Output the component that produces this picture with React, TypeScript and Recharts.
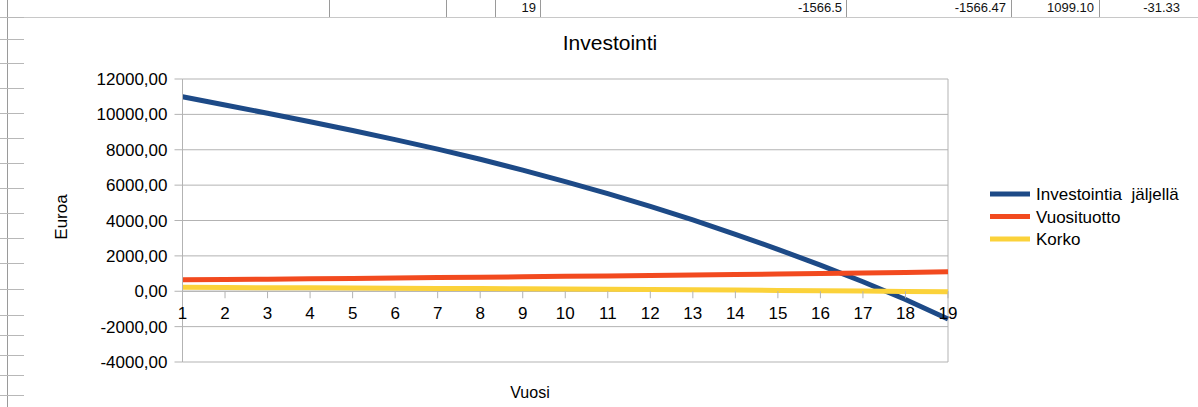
import React from 'react';
import { LineChart, Line, XAxis, YAxis, CartesianGrid, ReferenceLine } from 'recharts';

// ---- data ----
const years = [1, 2, 3, 4, 5, 6, 7, 8, 9, 10, 11, 12, 13, 14, 15, 16, 17, 18, 19];
const investointiaJaljella = [11000, 10530, 10060, 9580, 9085, 8570, 8035, 7465, 6850, 6200, 5515, 4795, 4030, 3220, 2370, 1480, 540, -470, -1566.47];
const vuosituotto = [645.6, 664.97, 684.92, 705.47, 726.63, 748.43, 770.88, 794.01, 817.83, 842.36, 867.64, 893.66, 920.47, 948.09, 976.53, 1005.83, 1036.0, 1067.08, 1099.1];
const korko = [220.0, 210.6, 201.2, 191.6, 181.7, 171.4, 160.7, 149.3, 137.0, 124.0, 110.3, 95.9, 80.6, 64.4, 47.4, 29.6, 10.8, -9.4, -31.33];
const yTicks = [-4000, -2000, 0, 2000, 4000, 6000, 8000, 10000, 12000];
const seriesKeys = ['inv', 'vuo', 'korko'];
const seriesNames = ['Investointia  jäljellä', 'Vuosituotto', 'Korko'];
const seriesColors = ['#1d4a87', '#f24a1f', '#fbd23a'];
const title = 'Investointi';
const yTitle = 'Euroa';
const xTitle = 'Vuosi';
// spreadsheet remnants (text of the row visible above the chart)
const sheetCells = ['19', '-1566.5', '-1566.47', '1099.10', '-31.33'];

const data = years.map((y, i) => ({
  year: y,
  inv: investointiaJaljella[i],
  vuo: vuosituotto[i],
  korko: korko[i],
}));

// ---- layout ----
const W = 1198;
const H = 407;
const MARGIN = { top: 79, right: 250, bottom: 15, left: 0 };
const Y_AXIS_W = 182.5;
const X_AXIS_H = 30;
const PLOT_H = H - MARGIN.top - MARGIN.bottom - X_AXIS_H;
const Y_MIN = -4000;
const Y_MAX = 12000;
const FONT = '"Liberation Sans", Arial, Helvetica, sans-serif';
const GRID = '#b3b3b3';

const fmt = (v: number) => v.toFixed(2).replace('.', ',');

// X-axis ticks drawn on the zero line (axis crosses at 0)
const XTick = (props: any) => {
  const { x, y, payload } = props;
  const zeroY = y - (PLOT_H * (0 - Y_MIN)) / (Y_MAX - Y_MIN);
  return (
    <g>
      <line x1={x} x2={x} y1={zeroY} y2={zeroY + 7} stroke={GRID} strokeWidth={1} />
      <text x={x} y={zeroY + 28} textAnchor="middle" fontSize={17} fontFamily={FONT} fill="#000">
        {payload.value}
      </text>
    </g>
  );
};

const sheetLinesX = [329, 446, 495, 540, 846, 1011, 1099];
const sheetTextRight = [536, 842, 1006, 1094, 1180];
const leftRowLines = [17, 39, 63, 88, 113, 138, 163, 188, 213, 238, 263, 289, 315, 335, 355, 375, 395];

export default function App() {
  return (
    <div
      style={{
        position: 'fixed',
        left: 0,
        top: 0,
        width: W,
        height: H,
        overflow: 'hidden',
        background: '#fff',
        fontFamily: FONT,
      }}
    >
      {/* spreadsheet remnants */}
      <svg width={W} height={H} style={{ position: 'absolute', left: 0, top: 0 }}>
        <line x1={0} x2={W} y1={17.5} y2={17.5} stroke="#c8c8c8" />
        {sheetLinesX.map((x) => (
          <line key={x} x1={x + 0.5} x2={x + 0.5} y1={0} y2={17} stroke="#9a9a9a" />
        ))}
        {sheetCells.map((t, i) => (
          <text key={t} x={sheetTextRight[i]} y={12} textAnchor="end" fontSize={13} fontFamily={FONT} fill="#111">
            {t}
          </text>
        ))}
        <rect x={28} y={18} width={W - 28} height={H - 18} fill="#fff" />
        <line x1={7.5} x2={7.5} y1={0} y2={H} stroke="#9a9a9a" />
        {leftRowLines.map((y) => (
          <line key={y} x1={0} x2={24} y1={y + 0.5} y2={y + 0.5} stroke="#b8b8b8" />
        ))}
      </svg>

      <div style={{ position: 'absolute', left: 0, top: 0 }}>
        <LineChart width={W} height={H} data={data} margin={MARGIN}>
          <CartesianGrid vertical={false} stroke={GRID} strokeWidth={1} />
          <XAxis
            dataKey="year"
            type="number"
            domain={[1, 19]}
            ticks={years}
            interval={0}
            height={X_AXIS_H}
            axisLine={false}
            tickLine={false}
            tickSize={0}
            tickMargin={0}
            tick={<XTick />}
          />
          <YAxis
            type="number"
            domain={[Y_MIN, Y_MAX]}
            ticks={yTicks}
            interval={0}
            width={Y_AXIS_W}
            tickFormatter={fmt}
            tickSize={8}
            tickMargin={7}
            axisLine={{ stroke: GRID }}
            tickLine={{ stroke: GRID }}
            tick={{ fontSize: 17, fill: '#000', fontFamily: FONT }}
          />
          <ReferenceLine x={19} stroke={GRID} strokeWidth={1} />
          <ReferenceLine y={0} stroke={GRID} strokeWidth={1} />
          {seriesKeys.map((k, i) => (
            <Line
              key={k}
              type="linear"
              dataKey={k}
              name={seriesNames[i]}
              stroke={seriesColors[i]}
              strokeWidth={5}
              dot={false}
              activeDot={false}
              isAnimationActive={false}
            />
          ))}
        </LineChart>
      </div>

      {/* titles and legend */}
      <svg width={W} height={H} style={{ position: 'absolute', left: 0, top: 0, pointerEvents: 'none' }}>
        <text x={610} y={50} textAnchor="middle" fontSize={21} fontFamily={FONT} fill="#000">
          {title}
        </text>
        <text transform="translate(67,217) rotate(-90)" textAnchor="middle" fontSize={17} fontFamily={FONT} fill="#000">
          {yTitle}
        </text>
        <text x={530} y={398} textAnchor="middle" fontSize={16} fontFamily={FONT} fill="#000">
          {xTitle}
        </text>
        {seriesNames.map((n, i) => (
          <g key={n}>
            <rect x={990} y={194 + i * 22.5 - 2.5} width={40} height={5} fill={seriesColors[i]} />
            <text x={1036} y={194 + i * 22.5 + 6} fontSize={17} fontFamily={FONT} fill="#000" style={{ whiteSpace: 'pre' }}>
              {n}
            </text>
          </g>
        ))}
      </svg>
    </div>
  );
}
